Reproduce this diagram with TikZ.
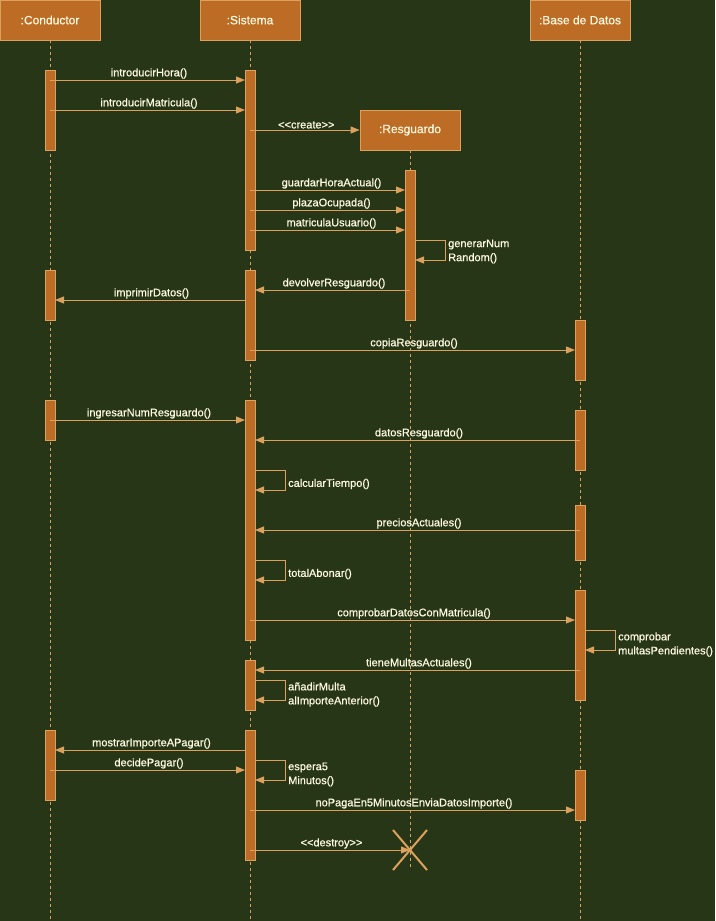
\documentclass[tikz,border=0pt]{standalone}
\usepackage{fontspec}
\setmainfont{Liberation Sans}
\newfontfamily\lblfont{Liberation Sans}[FakeBold=0.6]
\usetikzlibrary{arrows.meta,calc}
\definecolor{bgc}{HTML}{283618}
\definecolor{boxf}{HTML}{BC6C25}
\definecolor{boxd}{HTML}{DDA15E}
\definecolor{txt}{HTML}{FEFAE0}
\tikzset{
  obj/.style={draw=boxd,fill=boxf,minimum width=100pt,minimum height=40pt,inner sep=0pt,text=txt,font=\lblfont\fontsize{12}{14}\selectfont,line width=0.8pt},
  life/.style={draw=boxd,dash pattern=on 3pt off 3pt,line width=0.8pt},
  actbar/.style={draw=boxd,fill=boxf,line width=0.8pt},
  msg/.style={draw=boxd,line width=0.9pt,-{Triangle[length=9pt,width=7pt]}},
  lbl/.style={text=txt,font=\lblfont\fontsize{11}{14}\selectfont,inner sep=1pt},
  mlbl/.style={lbl,anchor=south,yshift=0pt,xshift=1.5pt},
  slbl/.style={lbl,anchor=west,align=left},
}
\begin{document}
\begin{tikzpicture}[x=1pt,y=-1pt]
\fill[bgc] (0,0) rectangle (715,921);
\useasboundingbox (0,0) rectangle (715,921);
% lifelines
\coordinate (lcA) at (50,921);
\coordinate (lsA) at (250,921);
\coordinate (lrA) at (410,867);
\coordinate (lbA) at (580,921);
\node[obj] (cond) at (50,20) {:Conductor};
\node[obj] (sis) at (250,20) {:Sistema};
\node[obj] (res) at (410,130) {:Resguardo};
\node[obj] (bd) at (580,20) {:Base de Datos};
\draw[life] (cond.south) -- (lcA);
\draw[life] (sis.south) -- (lsA);
\draw[life] (res.south) -- (lrA);
\draw[life] (bd.south) -- (lbA);
% activations
\draw[actbar] (45,70) rectangle (55,150);
\draw[actbar] (45,270) rectangle (55,320);
\draw[actbar] (45,400) rectangle (55,440);
\draw[actbar] (45,730) rectangle (55,800);
\draw[actbar] (245,70) rectangle (255,250);
\draw[actbar] (245,270) rectangle (255,360);
\draw[actbar] (245,400) rectangle (255,640);
\draw[actbar] (245,660) rectangle (255,710);
\draw[actbar] (245,730) rectangle (255,860);
\draw[actbar] (405,170) rectangle (415,320);
\draw[actbar] (575,320) rectangle (585,380);
\draw[actbar] (575,410) rectangle (585,470);
\draw[actbar] (575,505) rectangle (585,560);
\draw[actbar] (575,590) rectangle (585,700);
\draw[actbar] (575,770) rectangle (585,820);
% message end points
\coordinate (m1a) at (50,80);   \coordinate (m1b) at (245,80);
\coordinate (m2a) at (50,110);  \coordinate (m2b) at (245,110);
\coordinate (m3a) at (250,130);
\coordinate (m4a) at (250,190); \coordinate (m4b) at (405,190);
\coordinate (m5a) at (250,210); \coordinate (m5b) at (405,210);
\coordinate (m6a) at (250,230); \coordinate (m6b) at (405,230);
\coordinate (m8a) at (410,290); \coordinate (m8b) at (255,290);
\coordinate (m9a) at (245,300); \coordinate (m9b) at (55,300);
\coordinate (m10a) at (250,350); \coordinate (m10b) at (575,350);
\coordinate (m11a) at (50,420); \coordinate (m11b) at (245,420);
\coordinate (m12a) at (580,440); \coordinate (m12b) at (255,440);
\coordinate (m14a) at (580,530); \coordinate (m14b) at (255,530);
\coordinate (m16a) at (250,620); \coordinate (m16b) at (575,620);
\coordinate (m18a) at (580,670); \coordinate (m18b) at (255,670);
\coordinate (m20a) at (245,750); \coordinate (m20b) at (55,750);
\coordinate (m21a) at (50,770); \coordinate (m21b) at (245,770);
\coordinate (m23a) at (250,810); \coordinate (m23b) at (575,810);
\coordinate (m24a) at (250,850); \coordinate (xmark) at (410,850);
% messages
\draw[msg] (m1a) -- node[mlbl]{introducirHora()} (m1b);
\draw[msg] (m2a) -- node[mlbl]{introducirMatricula()} (m2b);
\draw[msg] (m3a) -- node[mlbl]{<\kern0pt<create>\kern0pt>} (res.west |- m3a);
\draw[msg] (m4a) -- node[mlbl,xshift=2.5pt]{guardarHoraActual()} (m4b);
\draw[msg] (m5a) -- node[mlbl,xshift=2.5pt]{plazaOcupada()} (m5b);
\draw[msg] (m6a) -- node[mlbl,xshift=2.5pt]{matriculaUsuario()} (m6b);
\draw[msg] (415,240) -- (445,240) -- (445,260) -- (415,260);
\node[slbl] (l7) at (447,251.5) {generarNum\\Random()};
\draw[msg] (m8a) -- node[mlbl]{devolverResguardo()} (m8b);
\draw[msg] (m9a) -- node[mlbl]{imprimirDatos()} (m9b);
\draw[msg] (m10a) -- node[mlbl]{copiaResguardo()} (m10b);
\draw[msg] (m11a) -- node[mlbl]{ingresarNumResguardo()} (m11b);
\draw[msg] (m12a) -- node[mlbl]{datosResguardo()} (m12b);
\draw[msg] (255,470) -- (285,470) -- (285,490) -- (255,490);
\node[slbl] (l13) at (287,484) {calcularTiempo()};
\draw[msg] (m14a) -- node[mlbl]{preciosActuales()} (m14b);
\draw[msg] (255,560) -- (285,560) -- (285,580) -- (255,580);
\node[slbl] (l15) at (287,574) {totalAbonar()};
\draw[msg] (m16a) -- node[mlbl]{comprobarDatosConMatricula()} (m16b);
\draw[msg] (585,630) -- (615,630) -- (615,650) -- (585,650);
\node[slbl] (l17) at (617,644.5) {comprobar\\multasPendientes()};
\draw[msg] (m18a) -- node[mlbl]{tieneMultasActuales()} (m18b);
\draw[msg] (255,680) -- (285,680) -- (285,700) -- (255,700);
\node[slbl] (l19) at (287,694.5) {añadirMulta\\alImporteAnterior()};
\draw[msg] (m20a) -- node[mlbl]{mostrarImporteAPagar()} (m20b);
\draw[msg] (m21a) -- node[mlbl]{decidePagar()} (m21b);
\draw[msg] (255,760) -- (285,760) -- (285,780) -- (255,780);
\node[slbl] (l22) at (287,774.5) {espera5\\Minutos()};
\draw[msg] (m23a) -- node[mlbl]{noPagaEn5MinutosEnviaDatosImporte()} (m23b);
\draw[msg] (m24a) -- node[mlbl]{<\kern0pt<destroy>\kern0pt>} (xmark);
\draw[boxd,line width=2pt] ($(xmark)+(-17,-20)$) -- ($(xmark)+(17,20)$);
\draw[boxd,line width=2pt] ($(xmark)+(17,-20)$) -- ($(xmark)+(-17,20)$);
\end{tikzpicture}
\end{document}
